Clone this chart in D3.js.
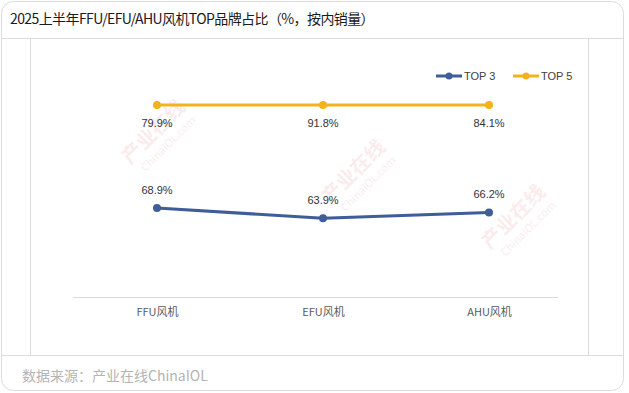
<!DOCTYPE html>
<html>
<head>
<meta charset="utf-8">
<script src="https://cdn.jsdelivr.net/npm/d3@7"></script>
<style>
  body { margin: 0; background: #fff; }
  svg { display: block; font-family: "Noto Sans CJK SC", "Noto Sans", sans-serif; }
</style>
</head>
<body>
<script>
// categories and series (percent, share of sales)
const categories = ['FFU风机', 'EFU风机', 'AHU风机']
const top3 = [68.9, 63.9, 66.2]
const top5 = [79.9, 91.8, 84.1]
const seriesNames = ['TOP 3', 'TOP 5']
const colors = ['#3f5d98', '#f2b31f']

const width = 629
const height = 393

const svg = d3.select('body').append('svg')
  .attr('width', width)
  .attr('height', height)

// card frame
svg.append('rect')
  .attr('x', 1.5).attr('y', 1.5)
  .attr('width', 622).attr('height', 389)
  .attr('rx', 12)
  .attr('fill', '#fff')
  .attr('stroke', '#dcdcdc')

svg.append('text')
  .attr('x', 10).attr('y', 24)
  .style('font-size', '14px')
  .style('letter-spacing', '-0.6px')
  .style('fill', '#1a1a1a')
  .text('2025上半年FFU/EFU/AHU风机TOP品牌占比（%，按内销量）')

// separators and inner frame
const grid = svg.append('g').attr('stroke', '#dcdcdc').attr('stroke-width', 1)
grid.append('line').attr('x1', 2).attr('x2', 623).attr('y1', 38.5).attr('y2', 38.5)
grid.append('line').attr('x1', 2).attr('x2', 623).attr('y1', 355.5).attr('y2', 355.5)
grid.append('line').attr('x1', 30.5).attr('x2', 30.5).attr('y1', 39).attr('y2', 355)
grid.append('line').attr('x1', 588.5).attr('x2', 588.5).attr('y1', 39).attr('y2', 355)

svg.append('text')
  .attr('x', 22).attr('y', 381)
  .style('font-size', '14px')
  .style('fill', '#b4b4b4')
  .text('数据来源：产业在线ChinaIOL')

// faint watermarks
const marks = [[130, 165], [330, 205], [490, 250]]
marks.forEach(([mx, my]) => {
  const w = svg.append('g').attr('transform', `translate(${mx},${my}) rotate(-45)`).style('opacity', 0.07)
  w.append('text').attr('x', 0).attr('y', 0)
    .style('font-size', '20px').style('font-weight', 'bold').style('fill', '#c00000')
    .text('产业在线')
  w.append('text').attr('x', 6).attr('y', 16)
    .style('font-size', '11px').style('fill', '#c00000')
    .text('ChinaIOL.com')
})

// 100% stacked line: TOP3 share and cumulative (always 100%)
const data = categories.map((c, i) => {
  const total = top3[i] + top5[i]
  return { cat: c, v3: top3[i], v5: top5[i], s3: top3[i] / total, s5: 1 }
})

const x = d3.scalePoint().domain(categories).range([74, 572]).padding(0.5)
const y = d3.scaleLinear().domain([0, 1]).range([297, 105])

// category axis
const xAxis = svg.append('g')
  .attr('transform', 'translate(0,297)')
  .call(d3.axisBottom(x).tickSize(0).tickPadding(11))
xAxis.select('.domain').remove()
xAxis.selectAll('text')
  .style('font-family', '"Noto Sans CJK SC", sans-serif')
  .style('font-size', '11px')
  .style('fill', '#595959')
svg.append('line')
  .attr('x1', 73).attr('x2', 558)
  .attr('y1', 297.5).attr('y2', 297.5)
  .attr('stroke', '#d9d9d9')

const series = [
  { name: seriesNames[0], key: 's3', val: 'v3', color: colors[0], dy: -14 },
  { name: seriesNames[1], key: 's5', val: 'v5', color: colors[1], dy: 22 }
]

const line = d3.line().x(d => x(d.cat))

series.forEach(s => {
  svg.append('path')
    .datum(data)
    .attr('fill', 'none')
    .attr('stroke', s.color)
    .attr('stroke-width', 3)
    .attr('d', line.y(d => y(d[s.key])))
  svg.selectAll(null).data(data).enter().append('circle')
    .attr('cx', d => x(d.cat))
    .attr('cy', d => y(d[s.key]))
    .attr('r', 4)
    .attr('fill', s.color)
  svg.selectAll(null).data(data).enter().append('text')
    .attr('x', d => x(d.cat))
    .attr('y', d => y(d[s.key]) + s.dy)
    .attr('text-anchor', 'middle')
    .style('font-family', 'Arial, "Liberation Sans", sans-serif')
    .style('font-size', '11px')
    .style('fill', '#333')
    .text(d => d[s.val].toFixed(1) + '%')
})

// legend
const legend = svg.append('g').attr('transform', 'translate(436,76)')
series.forEach((s, i) => {
  const g = legend.append('g').attr('transform', `translate(${i * 77},0)`)
  g.append('line').attr('x1', 0).attr('x2', 26).attr('y1', 0).attr('y2', 0)
    .attr('stroke', s.color).attr('stroke-width', 3)
  g.append('circle').attr('cx', 13).attr('cy', 0).attr('r', 3.5).attr('fill', s.color)
  g.append('text').attr('x', 28).attr('y', 4)
    .style('font-family', 'Arial, "Liberation Sans", sans-serif')
    .style('font-size', '11px')
    .style('fill', '#404040')
    .text(s.name)
})
</script>
</body>
</html>
